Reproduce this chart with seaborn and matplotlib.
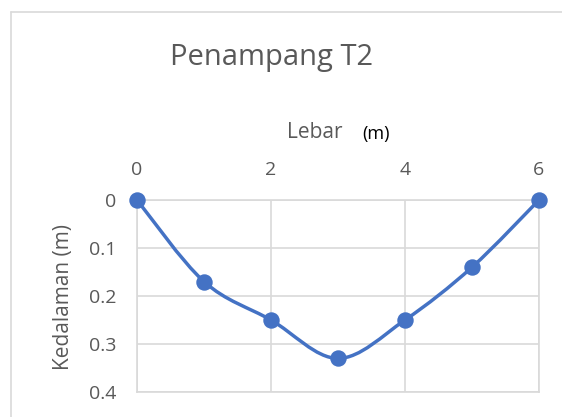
import numpy as np
import matplotlib
matplotlib.use('Agg')
import matplotlib.pyplot as plt
import seaborn as sns
import pandas as pd
from matplotlib.path import Path
from matplotlib.patches import PathPatch

# data
lebar = [0, 1, 2, 3, 4, 5, 6]
kedalaman = [0.0, 0.17, 0.25, 0.33, 0.25, 0.14, 0.0]
x_ticks = [0, 2, 4, 6]
y_ticks = [0, 0.1, 0.2, 0.3, 0.4]
y_tick_labels = ['0', '0.1', '0.2', '0.3', '0.4']

BLUE = '#4472C4'
GRID = '#D9D9D9'
TEXT = '#595959'

sns.set_theme(style='white')
plt.rcParams['font.family'] = ['Open Sans', 'DejaVu Sans']

df = pd.DataFrame({'lebar': lebar, 'kedalaman': kedalaman})

fig = plt.figure(figsize=(5.62, 4.17), dpi=100)
ax = fig.add_axes([137 / 562, 1 - 392 / 417, (539 - 137) / 562, (392 - 200) / 417])


def smooth_path(xs, ys):
    """Excel-like smoothed line: Catmull-Rom segments as cubic Bezier curves."""
    pts = np.column_stack([xs, ys]).astype(float)
    padded = np.vstack([pts[0], pts, pts[-1]])
    verts = [pts[0]]
    codes = [Path.MOVETO]
    for i in range(len(pts) - 1):
        p0, p1, p2, p3 = padded[i], padded[i + 1], padded[i + 2], padded[i + 3]
        c1 = p1 + (p2 - p0) / 6
        c2 = p2 - (p3 - p1) / 6
        verts += [c1, c2, p2]
        codes += [Path.CURVE4] * 3
    return Path(verts, codes)


ax.add_patch(PathPatch(smooth_path(df['lebar'], df['kedalaman']),
                       facecolor='none', edgecolor=BLUE, lw=2.5,
                       capstyle='round', joinstyle='round', zorder=3))
sns.scatterplot(data=df, x='lebar', y='kedalaman', ax=ax, color=BLUE,
                s=140, edgecolor=BLUE, linewidth=0, zorder=4, clip_on=False)

ax.set_xlim(0, 6)
ax.set_ylim(0.4, 0)
ax.set_xticks(x_ticks)
ax.set_yticks(y_ticks)
ax.set_yticklabels(y_tick_labels)
ax.xaxis.tick_top()
ax.tick_params(axis='both', length=0, labelsize=14, labelcolor=TEXT)
ax.tick_params(axis='x', pad=15)
ax.tick_params(axis='y', pad=15)
ax.set_xlabel('')
ax.set_ylabel('')
ax.grid(True, color=GRID, linewidth=1.2)
for sp in ax.spines.values():
    sp.set_color(GRID)
    sp.set_linewidth(1.2)

# text
fig.text(272 / 562, 1 - 57 / 417, 'Penampang T2', ha='center', va='center',
         fontsize=21, color=TEXT)
fig.text(315 / 562, 1 - 133 / 417, 'Lebar', ha='center', va='center',
         fontsize=15, color=TEXT)
fig.text(376 / 562, 1 - 134 / 417, '(m)', ha='center', va='center',
         fontsize=13, color='black')
fig.text(63 / 562, 1 - 297 / 417, 'Kedalaman (m)', ha='center', va='center',
         rotation=90, fontsize=15, color=TEXT)

# chart area border (left and top edges visible)
fig.add_artist(plt.Line2D([10.5 / 562, 10.5 / 562], [0, 1 - 12 / 417],
                          transform=fig.transFigure, color=GRID, lw=1.2))
fig.add_artist(plt.Line2D([10.5 / 562, 1], [1 - 12 / 417, 1 - 12 / 417],
                          transform=fig.transFigure, color=GRID, lw=1.2))

fig.savefig('out.png', dpi=100)
